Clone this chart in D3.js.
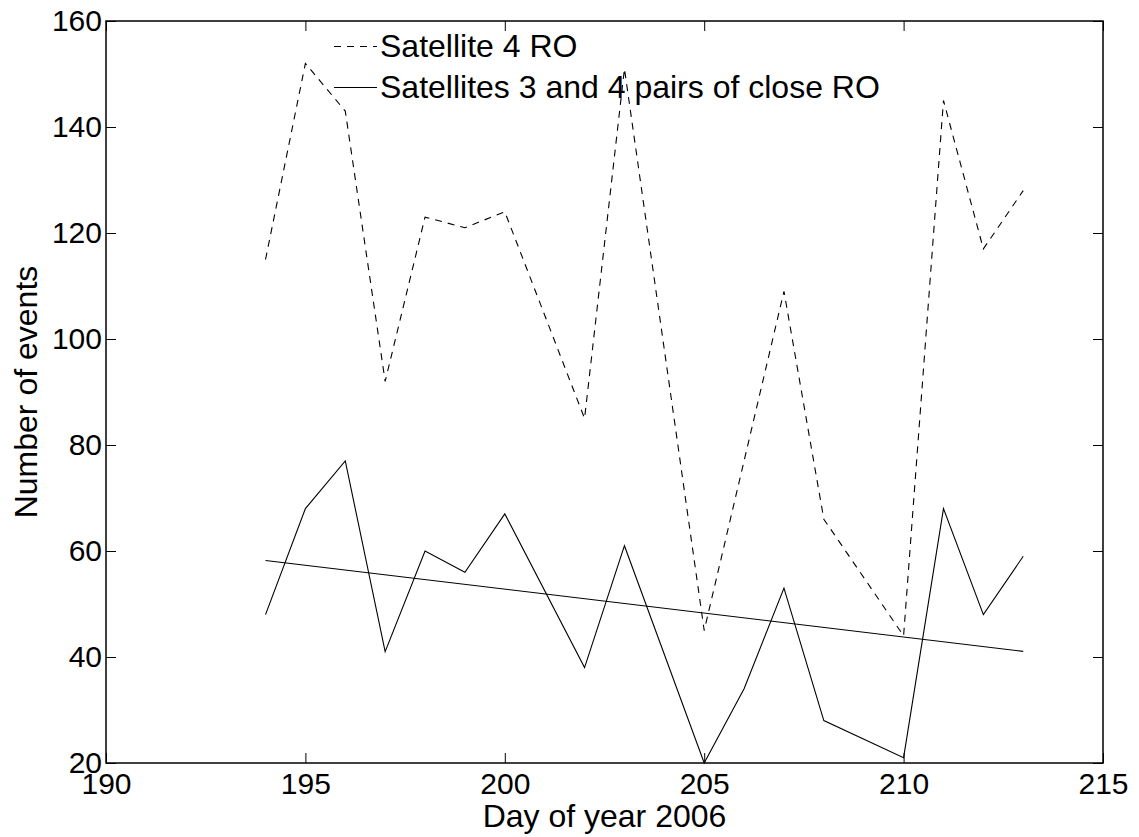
<!DOCTYPE html>
<html>
<head>
<meta charset="utf-8">
<script src="https://cdn.jsdelivr.net/npm/d3@7"></script>
<style>
  body { margin: 0; background: #fff; }
  svg { font-family: "Liberation Sans", Arial, Helvetica, sans-serif; }
</style>
</head>
<body>
<svg class="chart" width="1139" height="837"></svg>
<script>
// days with data (201, 204 and 209 are missing, lines just join across)
var days = [194, 195, 196, 197, 198, 199, 200, 202, 203, 205, 206, 207, 208, 210, 211, 212, 213];
var sat4RO = [115, 152, 143, 92, 123, 121, 124, 85, 151, 45, 77, 109, 66, 44, 145, 117, 128];
var closeRO = [48, 68, 77, 41, 60, 56, 67, 38, 61, 20, 34, 53, 28, 21, 68, 48, 59];

var xTicks = [190, 195, 200, 205, 210, 215];
var yTicks = [20, 40, 60, 80, 100, 120, 140, 160];
var seriesNames = ["Satellite 4 RO", "Satellites 3 and 4 pairs of close RO"];

draw_chart();

function draw_chart(){
    var svg = d3.select("svg.chart");
    var pLeft = 106, pRight = 1103, pTop = 21, pBottom = 763;

    var x = d3.scaleLinear().domain([190, 215]).range([pLeft, pRight]);
    var y = d3.scaleLinear().domain([20, 160]).range([pBottom, pTop]);

    //axes with inward ticks, labels only on bottom/left
    svg.append("g")
        .attr("transform", `translate(0,${pBottom})`)
        .call(d3.axisBottom(x).tickValues(xTicks).tickSize(-10).tickPadding(10).tickFormat(d3.format("d")));
    svg.append("g")
        .attr("transform", `translate(${pLeft},0)`)
        .call(d3.axisLeft(y).tickValues(yTicks).tickSize(-10).tickPadding(4).tickFormat(d3.format("d")));
    svg.append("g")
        .attr("transform", `translate(0,${pTop})`)
        .call(d3.axisTop(x).tickValues(xTicks).tickSize(-10).tickFormat(""));
    svg.append("g")
        .attr("transform", `translate(${pRight},0)`)
        .call(d3.axisRight(y).tickValues(yTicks).tickSize(-10).tickFormat(""));

    svg.selectAll(".domain").remove();
    svg.selectAll(".tick line").attr("stroke", "#000").attr("stroke-width", 1);
    svg.selectAll(".tick text").attr("font-size", 30).attr("fill", "#000").attr("font-family", null);

    //frame
    svg.append("rect")
        .attr("x", pLeft).attr("y", pTop)
        .attr("width", pRight - pLeft).attr("height", pBottom - pTop)
        .attr("fill", "none").attr("stroke", "#000").attr("stroke-width", 1.5);

    var line = d3.line().x(d => x(d[0])).y(d => y(d[1]));

    svg.append("path")
        .datum(days.map((d, i) => [d, sat4RO[i]]))
        .attr("d", line)
        .attr("fill", "none").attr("stroke", "#000").attr("stroke-width", 1.1)
        .attr("stroke-dasharray", "7,6");

    svg.append("path")
        .datum(days.map((d, i) => [d, closeRO[i]]))
        .attr("d", line)
        .attr("fill", "none").attr("stroke", "#000").attr("stroke-width", 1.1);

    //least squares trend of the close RO counts
    var mx = d3.mean(days), my = d3.mean(closeRO);
    var sxy = d3.sum(days, (d, i) => (d - mx) * (closeRO[i] - my));
    var sxx = d3.sum(days, d => (d - mx) * (d - mx));
    var slope = sxy / sxx;
    svg.append("path")
        .datum(d3.extent(days).map(d => [d, my + slope * (d - mx)]))
        .attr("d", line)
        .attr("fill", "none").attr("stroke", "#000").attr("stroke-width", 1.1);

    //legend
    var legend = svg.append("g").attr("transform", "translate(334,46)");
    seriesNames.forEach((name, i) => {
        var g = legend.append("g").attr("transform", `translate(0,${i * 41})`);
        g.append("line")
            .attr("x1", 0).attr("x2", 43).attr("y1", 0.5).attr("y2", 0.5)
            .attr("stroke", "#000").attr("stroke-width", 1)
            .attr("stroke-dasharray", i == 0 ? "7,6" : null);
        g.append("text")
            .attr("x", 46).attr("dy", "0.35em")
            .attr("font-size", 32)
            .text(name);
    });

    //axis titles
    svg.append("text")
        .attr("x", (pLeft + pRight) / 2).attr("y", 827)
        .attr("text-anchor", "middle").attr("font-size", 32)
        .text("Day of year 2006");
    svg.append("text")
        .attr("transform", `translate(37,${(pTop + pBottom) / 2}) rotate(-90)`)
        .attr("text-anchor", "middle").attr("font-size", 32)
        .text("Number of events");
}
</script>
</body>
</html>
